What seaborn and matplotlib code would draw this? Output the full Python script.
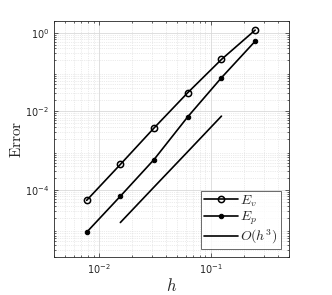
import numpy as np
import pandas as pd
import matplotlib
matplotlib.use("Agg")
import matplotlib.pyplot as plt
import seaborn as sns
from matplotlib.ticker import LogLocator, NullFormatter

# Data
h = [1/128, 1/64, 1/32, 1/16, 1/8, 1/4]
err_v = [5.5e-5, 4.5e-4, 3.8e-3, 3.0e-2, 2.1e-1, 1.17]
err_p = [8.5e-6, 7.0e-5, 6.0e-4, 7.3e-3, 7.2e-2, 6.1e-1]
h_ref = [1/64, 1/32, 1/16, 1/8]
err_ref = [1.5e-5, 1.2e-4, 9.5e-4, 7.6e-3]

sns.set_style("ticks")
plt.rcParams["mathtext.fontset"] = "cm"
plt.rcParams["font.family"] = ["DejaVu Sans"]

fig = plt.figure(figsize=(3.32, 2.95), dpi=100)
ax = fig.add_axes([0.163, 0.129, 0.707, 0.80])

df_v = pd.DataFrame({"h": h, "err": err_v})
df_p = pd.DataFrame({"h": h, "err": err_p})
df_r = pd.DataFrame({"h": h_ref, "err": err_ref})

sns.lineplot(data=df_v, x="h", y="err", ax=ax, color="black", lw=1.2,
             marker="o", markersize=4.5, markerfacecolor="none",
             markeredgecolor="black", markeredgewidth=1.1, label=r"$E_v$")
sns.lineplot(data=df_p, x="h", y="err", ax=ax, color="black", lw=1.2,
             marker="o", markersize=3.2, markerfacecolor="black",
             markeredgecolor="black", label=r"$E_p$")
sns.lineplot(data=df_r, x="h", y="err", ax=ax, color="black", lw=1.2,
             label=r"$O(h^3)$")

ax.set_xscale("log")
ax.set_yscale("log")
ax.set_xlim(0.004, 0.5)
ax.set_ylim(2e-6, 2)

ax.yaxis.set_minor_locator(LogLocator(base=10, subs=np.arange(2, 10), numticks=20))
ax.xaxis.set_minor_locator(LogLocator(base=10, subs=np.arange(2, 10), numticks=20))
ax.yaxis.set_minor_formatter(NullFormatter())
ax.xaxis.set_minor_formatter(NullFormatter())
ax.set_yticks([1e-4, 1e-2, 1e0])
ax.set_xticks([1e-2, 1e-1])

ax.grid(True, which="major", color="#d9d9d9", lw=0.6, ls="-")
ax.grid(True, which="minor", color="#d9d9d9", lw=0.5, ls=":")
ax.set_axisbelow(True)

for s in ax.spines.values():
    s.set_color("#262626")
    s.set_linewidth(0.6)
ax.tick_params(which="both", direction="in", top=True, right=True,
               colors="#262626", labelsize=7, width=0.5)
ax.tick_params(which="major", length=3)
ax.tick_params(which="minor", length=1.5)

ax.set_xlabel(r"$h$", fontsize=12, labelpad=1)
ax.set_ylabel(r"$\mathrm{Error}$", fontsize=11, labelpad=1)

leg = ax.legend(loc="lower right", fontsize=10, frameon=True, fancybox=False,
                edgecolor="#262626", handlelength=2.4, handletextpad=0.2,
                labelspacing=0.05, borderpad=0.2, borderaxespad=0.6)
leg.get_frame().set_linewidth(0.6)

fig.savefig("out.png", dpi=100)
